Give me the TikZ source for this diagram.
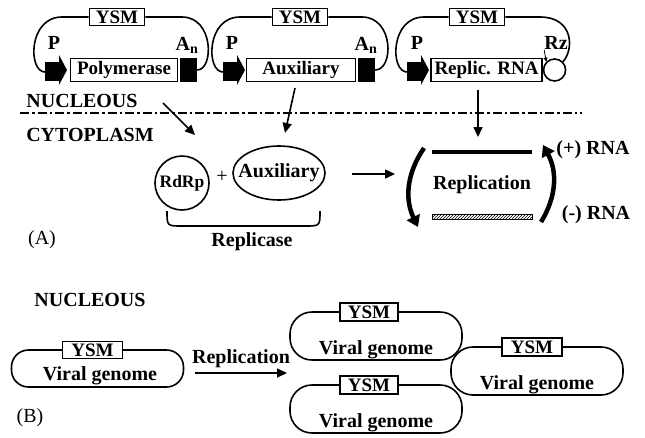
\documentclass[tikz,border=0pt]{standalone}
\usepackage{fontspec}
\setmainfont{Liberation Serif}
\usetikzlibrary{positioning, arrows.meta, shapes.geometric, patterns}

\tikzset{
    lbl/.style={font=\fontsize{20}{21}\selectfont\bfseries, inner sep=0pt},
    ysmbox/.style={draw, line width=1.6pt, fill=white, font=\fontsize{19}{19}\selectfont\bfseries, inner sep=0pt, minimum width=55, minimum height=17},
    genebox/.style={draw, line width=1.6pt, font=\fontsize{19}{19}\selectfont\bfseries, inner sep=0pt, minimum height=23},
    blk/.style={fill=black, inner sep=0pt, minimum width=17, minimum height=24},
    ring/.style={line width=1.6pt},
    genome/.style={draw, line width=1.6pt, minimum width=172},
    arr/.style={line width=1.6pt, -{Triangle[length=10pt, width=9pt]}},
    strandarr/.style={line width=4.5pt, -{Triangle[length=11pt, width=14pt]}},
}

\begin{document}
\begin{tikzpicture}[x=1pt, y=-1pt]
    \useasboundingbox (0,0) rectangle (645,437);

    % (A) expression plasmids
    \node (ysmA) [ysmbox] at (117,17) {YSM};
    \node (pol) [genebox, minimum width=107] at (124,70) {Polymerase};
    \node (anA) [blk] at (188.5,70) {};
    \fill (45,62) rectangle (60,81);
    \fill (59,55) -- (67,70) -- (59,85) -- cycle;
    \draw [ring] (45,72) .. controls (28,72) and (28,17) .. (62,17) -- (ysmA.west);
    \draw [ring] (ysmA.east) -- (182,17) .. controls (214,17) and (214,70) .. (anA.east);
    \node (pA) [lbl] at (54,43) {P};
    \node (tailA) [lbl] at (187,45) {A\textsubscript{n}};

    \node (ysmB) [ysmbox] at (300,17) {YSM};
    \node (aux) [genebox, minimum width=109] at (301,70) {Auxiliary};
    \node (anB) [blk] at (366.5,70) {};
    \fill (223,62) rectangle (238,81);
    \fill (237,55) -- (245,70) -- (237,85) -- cycle;
    \draw [ring] (223,72) .. controls (206,72) and (206,17) .. (240,17) -- (ysmB.west);
    \draw [ring] (ysmB.east) -- (362,17) .. controls (394,17) and (394,70) .. (anB.east);
    \node (pB) [lbl] at (232,43) {P};
    \node (tailB) [lbl] at (366,45) {A\textsubscript{n}};

    \node (ysmC) [ysmbox] at (477,17) {YSM};
    \node (rep) [genebox, minimum width=111] at (486.5,70) {Replic. RNA};
    \node (rz) [draw, line width=1.6pt, circle, minimum size=22, inner sep=0pt, right=0pt of rep] {};
    \fill (407,62) rectangle (422,81);
    \fill (421,55) -- (429,70) -- (421,85) -- cycle;
    \draw [ring] (407,72) .. controls (390,72) and (390,17) .. (424,17) -- (ysmC.west);
    \draw [ring] (ysmC.east) -- (540,17) .. controls (574,17) and (574,50) .. (rz.north east);
    \node (pC) [lbl] at (417,43) {P};
    \node (rzl) [lbl] at (556,43) {Rz};
    \draw [line width=0.8pt, -{Triangle[length=4pt, width=4pt]}] (rzl.south west) -- (rz.north west);

    \node (nucA) [lbl] at (82,101) {NUCLEOUS};
    \draw [line width=1.2pt, dash pattern=on 9pt off 3pt on 2.5pt off 3pt] (20,113) -- (582,113);
    \node (cyto) [lbl] at (90,135) {CYTOPLASM};

    \coordinate (inA) at (163,103);
    \coordinate (outA) at (195,135);
    \coordinate (inB) at (295,88);
    \coordinate (outB) at (285,133);
    \draw [arr] (inA) -- (outA);
    \draw [arr] (inB) -- (outB);

    \node (rdrp) [draw, line width=1.6pt, circle, minimum size=54, inner sep=0pt, font=\fontsize{17.5}{18}\selectfont\bfseries] at (182,183) {RdRp};
    \node (plus) [font=\fontsize{20}{20}\selectfont, inner sep=0pt] at (222,177) {+};
    \node (auxp) [lbl] at (279,173) {Auxiliary};
    \draw [ring] (auxp.center) ellipse [x radius=46, y radius=27];
    \draw [ring] (167,211) .. controls (167,226) .. (182,226) -- (305,226) .. controls (320,226) .. (320,211);
    \node (replicase) [lbl] at (252,242) {Replicase};
    \node (partA) [font=\fontsize{20}{20}\selectfont, inner sep=0pt] at (42,240) {(A)};

    \coordinate (toRep) at (352,174);
    \coordinate (atRep) at (395,174);
    \draw [arr] (toRep) -- (atRep);
    \coordinate (fromRep) at (478,90);
    \coordinate (intoRep) at (478,137);
    \draw [arr] (fromRep) -- (intoRep);

    \draw [line width=4pt] (432,152) -- (532,152);
    \draw [line width=0.6pt, pattern=north east lines] (432,214) rectangle (532,219);
    \node (replic) [lbl] at (482,185) {Replication};
    \draw [strandarr] (424,148) to[bend right=30] (418,227);
    \draw [strandarr] (541,222) to[bend right=30] (543,145);
    \node (pos) [lbl] at (593,150) {(+) RNA};
    \node (neg) [lbl] at (596,215) {(-) RNA};

    % (B) replicating genome
    \node (nucB) [lbl] at (90,300) {NUCLEOUS};

    \node (g1) [genome, minimum height=37, rounded corners=17] at (97.5,368.5) {};
    \node (y1) [ysmbox, minimum width=60] at (92.5,350) {YSM};
    \node (v1) [lbl] at (100,376) {Viral genome};

    \node (g2) [genome, minimum height=48, rounded corners=22] at (376,336) {};
    \node (y2) [ysmbox, minimum width=58, minimum height=18] at (369,312) {YSM};
    \node (v2) [lbl] at (376,350) {Viral genome};

    \node (g3) [genome, minimum height=48, rounded corners=22] at (376,409) {};
    \node (y3) [ysmbox, minimum width=58, minimum height=18] at (369,385) {YSM};
    \node (v3) [lbl] at (376,423) {Viral genome};

    \node (g4) [genome, minimum height=48, rounded corners=22] at (537,371) {};
    \node (y4) [ysmbox, minimum width=60, minimum height=18] at (532,347) {YSM};
    \node (v4) [lbl] at (537,385) {Viral genome};

    \coordinate (repStart) at (195,373);
    \coordinate (repEnd) at (287,373);
    \draw [arr] (repStart) -- (repEnd) node [midway, above=4pt, lbl] {Replication};
    \node (partB) [font=\fontsize{20}{20}\selectfont, inner sep=0pt] at (30,418) {(B)};
\end{tikzpicture}
\end{document}
